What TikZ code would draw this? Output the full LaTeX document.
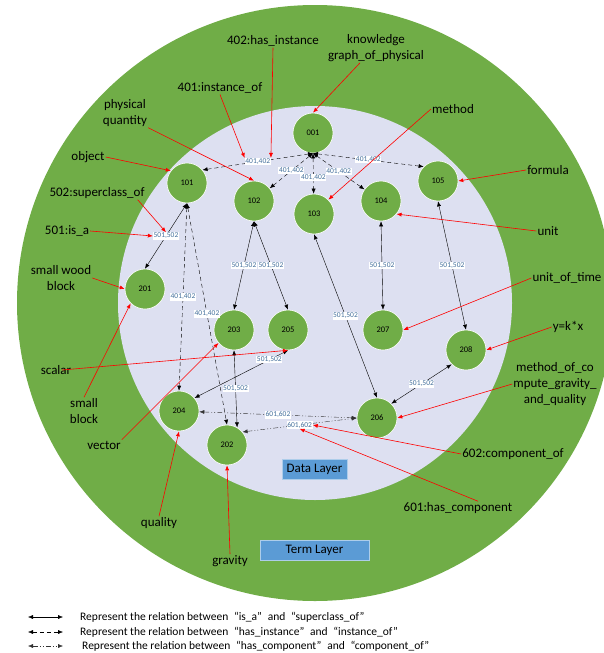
\documentclass[tikz,border=0pt]{standalone}
\usepackage{fontspec}
\setmainfont{Carlito}
\usetikzlibrary{arrows.meta}

\definecolor{termgreen}{HTML}{70AD47}
\definecolor{datablue}{HTML}{DDE0F1}
\definecolor{boxblue}{HTML}{5B9BD5}
\definecolor{labblue}{HTML}{44709C}

\tikzset{
  dnode/.style={circle, fill=termgreen, draw=white, line width=0.6pt, minimum size=40pt, inner sep=0pt, font=\fontsize{8.5}{10}\selectfont},
  elab/.style={fill=white, inner sep=0.6pt, text=labblue, font=\fontsize{7.5}{8}\selectfont},
  lab/.style={align=center, inner sep=1pt, font=\fontsize{13}{16}\selectfont},
  leg/.style={anchor=west, inner sep=0pt, font=\fontsize{11.5}{13}\selectfont},
  layer/.style={fill=boxblue, draw=boxblue!50!white, minimum height=20pt, font=\fontsize{13}{15}\selectfont},
  isa/.style={<->, thin, black},
  inst/.style={<->, thin, black, dash pattern=on 4pt off 3pt},
  comp/.style={<->, thin, black!80, dash pattern=on 5pt off 2pt on 1pt off 2pt on 1pt off 2pt},
  redline/.style={->, red, line width=0.6pt}
}

\begin{document}
\begin{tikzpicture}[x=1pt, y=-1pt, >={Latex[length=5pt,width=4pt]}]
    \useasboundingbox (0,0) rectangle (604,653);

    % the two layers
    \fill[termgreen] (315,303) circle (298pt);
    \fill[datablue] (315,303) circle (197pt);
    \node[layer, minimum width=65pt] (data) at (314.5,469) {Data Layer};
    \node[layer, minimum width=109pt] (term) at (314.5,550) {Term Layer};

    % data nodes
    \foreach \id/\x/\y in {001/313/133, 101/187/183, 102/254/201, 103/314/214, 104/381/201,
                           105/438/181, 201/145/289, 202/227/445, 203/234/330, 204/179/411,
                           205/288/330, 206/377/418, 207/383/330, 208/466/350}
        \node[dnode] (n\id) at (\x,\y) {\id};

    % has_instance / instance_of
    \draw[inst] (n001.south) -- node[elab] (e1) {401,402} (n101.40);
    \draw[inst] (n001.south) -- node[elab] {401,402} (n102);
    \draw[inst] (n001.south) -- node[elab, pos=0.6] {401,402} (n103);
    \draw[inst] (n001.south) -- node[elab] {401,402} (n104);
    \draw[inst] (n001.south) -- node[elab] {401,402} (n105.135);
    \draw[inst] (n101.south) -- node[elab] {401,402} (n204.north);
    \draw[inst] (n101.south) -- node[elab] {401,402} (n202.north);

    % is_a / superclass_of
    \draw[isa] (n101.south) -- node[elab] (e2) {501,502} (n201.north);
    \draw[isa] (n102.south) -- node[elab] {501,502} (n203.north);
    \draw[isa] (n102.south) -- node[elab] {501,502} (n205.north);
    \draw[isa] (n103.south) -- node[elab] {501,502} (n206.north);
    \draw[isa] (n104.south) -- node[elab] {501,502} (n207.north);
    \draw[isa] (n105.south) -- node[elab] {501,502} (n208.north);
    \draw[isa] (n205.south) -- node[elab, pos=0.2] {501,502} (n204.40);
    \draw[isa] (n203.south) -- node[elab] {501,502} (n202.60);
    \draw[isa] (n208.225) -- node[elab] {501,502} (n206.45);

    % has_component / component_of
    \draw[comp] (n204) -- node[elab] {601,602} (n206.west);
    \draw[comp] (n202.40) -- node[elab] (e3) {601,602} (n206.west);

    % term labels
    \node[lab] (l402) at (273,41) {402:has\_instance};
    \node[lab] (l401) at (220,88) {401:instance\_of};
    \node[lab] (lphys) at (125,113) {physical\\quantity};
    \node[lab] (lobj) at (88,157) {object};
    \node[lab] (l502) at (97,193) {502:superclass\_of};
    \node[lab] (l501) at (67,231) {501:is\_a};
    \node[lab] (lwood) at (61,278) {small wood\\block};
    \node[lab] (lscalar) at (56,370) {scalar};
    \node[lab] (lsmall) at (84,411) {small\\block};
    \node[lab] (lvector) at (104,445) {vector};
    \node[lab] (lquality) at (159,523) {quality};
    \node[lab] (lgravity) at (230,561) {gravity};
    \node[lab] (lkg) at (376,48) {knowledge\\graph\_of\_physical};
    \node[lab] (lmethod) at (453,109) {method};
    \node[lab] (lformula) at (548,170) {formula};
    \node[lab] (lunit) at (548,231) {unit};
    \node[lab] (ltime) at (567,278) {unit\_of\_time};
    \node[lab] (lykx) at (568,327) {y=k*x};
    \node[lab] (lcompute) at (555,384) {method\_of\_co\\mpute\_gravity\_\\and\_quality};
    \node[lab] (l602) at (513,454) {602:component\_of};
    \node[lab] (l601) at (458,508) {601:has\_component};

    % red pointers
    \draw[redline] (l402.south) -- (e1.north east);
    \draw[redline] (l401.south) -- (e1.north west);
    \draw[redline] (lphys.south east) -- (n102.north);
    \draw[redline] (lobj.east) -- (n101.143);
    \draw[redline] ([xshift=-8pt]l502.south east) -- (e2.north);
    \draw[redline] (l501.east) -- (e2.west);
    \draw[redline] (lwood.east) -- (n201.west);
    \draw[redline] ([xshift=6pt]lscalar.center) -- (n205.south);
    \draw[redline] (lsmall.north) -- (n201.225);
    \draw[redline] (lvector.north east) -- (n203.220);
    \draw[redline] (lquality.north) -- (n204.south);
    \draw[redline] (lgravity.north) -- (n202.south);
    \draw[redline] ([xshift=-16pt]lkg.south) -- (n001.north);
    \draw[redline] (lmethod.west) -- (n103.45);
    \draw[redline] (lformula.west) -- (n105.east);
    \draw[redline] (lunit.west) -- (n104.-40);
    \draw[redline] (ltime.west) -- (n207.east);
    \draw[redline] (lykx.west) -- (n208.east);
    \draw[redline] (lcompute.west) -- (n206.east);
    \draw[redline] (l602.west) -- (e3.east);
    \draw[redline] ([xshift=20pt]l601.north) -- (e3.south);

    % legend
    \coordinate (a1) at (28,617);
    \coordinate (b1) at (63,617);
    \coordinate (a2) at (28,632);
    \coordinate (b2) at (63,632);
    \coordinate (a3) at (28,646);
    \coordinate (b3) at (63,646);
    \draw[isa] (a1) -- (b1);
    \draw[inst] (a2) -- (b2);
    \draw[comp] (a3) -- (b3);
    \node[leg] (leg1) at (80,617) {Represent the relation between\enspace“is\_a”\enspace and\enspace“superclass\_of”};
    \node[leg] (leg2) at (80,632) {Represent the relation between\enspace“has\_instance”\enspace and\enspace“instance\_of”};
    \node[leg] (leg3) at (82,646) {Represent the relation between\enspace“has\_component”\enspace and\enspace“component\_of”};
\end{tikzpicture}
\end{document}
